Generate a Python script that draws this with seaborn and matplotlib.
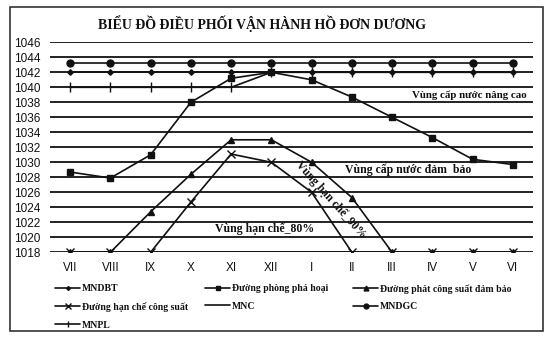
import matplotlib
matplotlib.use("Agg")
import matplotlib.pyplot as plt
from matplotlib.patches import Rectangle
import seaborn as sns

# Months of the operating year (July -> June)
months = ["VII", "VIII", "IX", "X", "XI", "XII", "I", "II", "III", "IV", "V", "VI"]

# Reservoir water levels (m)
mndbt = [1042, 1042, 1042, 1042, 1042, 1042, 1042, 1042, 1042, 1042, 1042, 1042]
phong_pha_hoai = [1028.7, 1027.9, 1031.0, 1038.0, 1041.2, 1042.0, 1041.0, 1038.7, 1036.0, 1033.3, 1030.4, 1029.7]
phat_cs_dam_bao = [1018, 1018, 1023.4, 1028.4, 1033.0, 1033.0, 1030.0, 1025.3, 1018, 1018, 1018, 1018]
han_che_cs = [1018, 1018, 1018, 1024.7, 1031.1, 1030.0, 1026.0, 1018, 1018, 1018, 1018, 1018]
mnc = [1018, 1018, 1018, 1018, 1018, 1018, 1018, 1018, 1018, 1018, 1018, 1018]
mndgc = [1043.2, 1043.2, 1043.2, 1043.2, 1043.2, 1043.2, 1043.2, 1043.2, 1043.2, 1043.2, 1043.2, 1043.2]
mnpl = [1040, 1040, 1040, 1040, 1040, 1042, 1042, 1042, 1042, 1042, 1042, 1042]

y_ticks = [1018, 1020, 1022, 1024, 1026, 1028, 1030, 1032, 1034, 1036, 1038, 1040, 1042, 1044, 1046]

sns.set_theme(style="white")
plt.rcParams["font.family"] = ["Liberation Serif", "DejaVu Serif"]

W, H = 553, 341
fig = plt.figure(figsize=(W / 100, H / 100), dpi=100)
fig.patch.set_facecolor("white")
ax = fig.add_axes([50 / W, 1 - 252.3 / H, 483 / W, 210 / H])
ax.set_facecolor("white")

ink = "#111111"
series = [
    ("MNDBT", mndbt, "D", 2.8, 1.0),
    ("Đường phòng phá hoại", phong_pha_hoai, "s", 5.0, 1.0),
    ("Đường phát công suất đảm bảo", phat_cs_dam_bao, "^", 5.0, 1.0),
    ("Đường hạn chế công suất", han_che_cs, "x", 5.5, 1.0),
    ("MNC", mnc, None, 0, 1.0),
    ("MNDGC", mndgc, "o", 5.0, 1.0),
    ("MNPL", mnpl, "|", 7.0, 1.0),
]

handles = {}
for name, vals, mk, ms, mew in series:
    sns.lineplot(x=months, y=vals, ax=ax, sort=False, color=ink, linewidth=1.2,
                 marker=mk if mk else "", markersize=ms, markeredgewidth=mew,
                 markeredgecolor=ink, markerfacecolor=ink, zorder=3)
    handles[name] = ax.lines[-1]

ax.set_xlim(-0.5, len(months) - 0.5)
ax.set_ylim(1018, 1046)
ax.set_yticks(y_ticks)
ax.yaxis.grid(True, color="#222222", linewidth=1.4)
ax.xaxis.grid(False)
ax.set_axisbelow(True)
for s in ax.spines.values():
    s.set_visible(False)
ax.set_xlabel("")
ax.set_ylabel("")
ax.tick_params(axis="y", length=0, pad=7, labelsize=8.5, colors=ink)
ax.tick_params(axis="x", length=0, pad=7, labelsize=8.5, colors=ink)
for lbl in ax.get_yticklabels() + ax.get_xticklabels():
    lbl.set_fontfamily(["Liberation Sans", "DejaVu Sans"])

# Zone annotations
zone_font = dict(fontweight="bold", color=ink, zorder=5)
ax.text(11.35, 1039.0, "Vùng cấp nước nâng cao", ha="right", va="center", fontsize=7.8, **zone_font)
ax.text(8.4, 1029.0, "Vùng cấp nước đảm  bảo", ha="center", va="center", fontsize=8.5, **zone_font)
ax.text(4.82, 1021.2, "Vùng hạn chế_80%", ha="center", va="center", fontsize=8.5, **zone_font)
ax.text(6.48, 1025.0, "Vùng hạn chế_90%", ha="center", va="center", fontsize=8.5,
        rotation=-48, rotation_mode="anchor", **zone_font)

# Title
fig.text(262 / W, 1 - 24 / H, "BIỂU ĐỒ ĐIỀU PHỐI VẬN HÀNH HỒ ĐƠN DƯƠNG",
         ha="center", va="center", fontsize=10, fontweight="bold", color=ink)

# Legend in three columns
columns = [
    (55, ["MNDBT", "Đường hạn chế công suất", "MNPL"]),
    (205, ["Đường phòng phá hoại", "MNC"]),
    (353, ["Đường phát công suất đảm bảo", "MNDGC"]),
]
for x0, names in columns:
    leg = fig.legend([handles[n] for n in names], names,
                     loc="upper left", bbox_to_anchor=(x0 / W, 1 - 284 / H),
                     frameon=False, ncol=1, borderpad=0, borderaxespad=0,
                     handlelength=2.6, handletextpad=0.15, labelspacing=0.9,
                     prop=dict(family="Liberation Serif", size=7, weight="bold"),
                     markerscale=0.7)
    for t in leg.get_texts():
        t.set_color(ink)

# Chart frame
fig.patches.append(Rectangle((10 / W, 1 - 331 / H), 533 / W, 324 / H,
                             transform=fig.transFigure, fill=False,
                             edgecolor="#333333", linewidth=1.2))

fig.savefig("out.png", dpi=100)
